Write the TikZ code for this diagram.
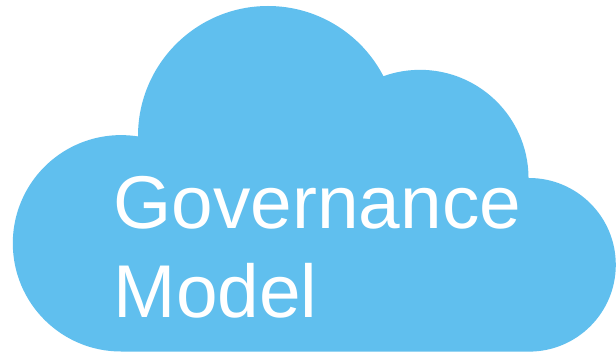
\documentclass[tikz,border=0pt]{standalone}
\usepackage{fontspec}
\setmainfont{Liberation Sans}
\definecolor{cloudblue}{HTML}{60BFEE}
\tikzset{cloudshape/.style={fill=cloudblue,draw=none},
 lbl/.style={text=white,font=\fontsize{74.8}{75}\selectfont,anchor=base west,inner sep=0pt}}
\begin{document}
\begin{tikzpicture}[x=1pt,y=-1pt]
\useasboundingbox (0,0) rectangle (616,353);
\fill[white] (0,0) rectangle (616,353);
\begin{scope}
\clip (0,0) rectangle (616,353);
\fill[cloudshape] (121,351.5)
 arc[start angle=90,end angle=279,radius=108.2]
 -- (138,136) arc[start angle=180,end angle=332.7,radius=130]
 -- (384,76) arc[start angle=250.6,end angle=360,radius=108.5]
 -- (529,178) arc[start angle=270,end angle=450,radius=86.8]
 -- cycle;
\end{scope}
\node[lbl] (gov) at (113.5,228) {Governance};
\node[lbl] (mod) at (113.5,317) {Model};
\end{tikzpicture}
\end{document}
